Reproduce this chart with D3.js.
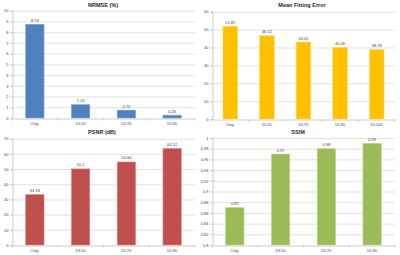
<!DOCTYPE html>
<html>
<head>
<meta charset="utf-8">
<script src="https://cdn.jsdelivr.net/npm/d3@7"></script>
<style>
    body { margin: 0; background: #fff; }
    svg { display: block; font-family: "Liberation Sans", "DejaVu Sans", sans-serif; }
</style>
</head>
<body>
<div id="chart"></div>
<script>
// values
var nrmseCats = ["Orig.", "DL50", "DL70", "DL90"];
var nrmseVals = [8.73, 1.24, 0.73, 0.26];
var nrmseLabels = ["8.73", "1.24", "0.73", "0.26"];

var mfeCats = ["Orig.", "DL50", "DL70", "DL90", "DL100"];
var mfeVals = [51.85, 46.52, 43.05, 40.09, 38.78];
var mfeLabels = ["51.85", "46.52", "43.05", "40.09", "38.78"];

var psnrCats = ["Orig.", "DL50", "DL70", "DL90"];
var psnrVals = [33.18, 50.1, 54.66, 63.52];
var psnrLabels = ["33.18", "50.1", "54.66", "63.52"];

var ssimCats = ["Orig.", "DL50", "DL70", "DL90"];
var ssimVals = [0.87, 0.97, 0.98, 0.99];
var ssimLabels = ["0.87", "0.97", "0.98", "0.99"];

var svg = d3.select("#chart").append("svg")
    .attr("width", 400)
    .attr("height", 255);

// one small Excel-style bar chart
function barChart(o) {
    var g = svg.append("g");

    var x = d3.scaleBand()
        .domain(o.cats)
        .range([o.left, o.right])
        .padding(0);

    var y = d3.scaleLinear()
        .domain(o.domain)
        .range([o.bottom, o.top]);

    var ticks = d3.range(0, Math.round((o.domain[1] - o.domain[0]) / o.step) + 1)
        .map(function (i) { return +(o.domain[0] + i * o.step).toFixed(4); });

    // gridlines
    g.selectAll(".grid")
        .data(ticks.slice(1))
        .enter().append("line")
        .attr("x1", o.left).attr("x2", o.right)
        .attr("y1", function (d) { return y(d) + 0.5; })
        .attr("y2", function (d) { return y(d) + 0.5; })
        .attr("stroke", "#d9d9d9")
        .attr("stroke-width", 0.8);

    // y axis
    var yAxis = d3.axisLeft(y)
        .tickValues(ticks)
        .tickSize(2)
        .tickPadding(2)
        .tickFormat(function (d) { return String(d); });
    var ya = g.append("g")
        .attr("transform", "translate(" + (o.left + 0.5) + ",0)")
        .call(yAxis);
    ya.select(".domain").attr("stroke", "#bfbfbf").attr("stroke-width", 0.8);
    ya.selectAll(".tick line").attr("stroke", "#bfbfbf");
    ya.selectAll("text").attr("font-size", 4).attr("fill", "#404040");

    // x axis
    var xAxis = d3.axisBottom(x).tickSize(0).tickPadding(4);
    var xa = g.append("g")
        .attr("transform", "translate(0," + (o.bottom + 0.5) + ")")
        .call(xAxis);
    xa.select(".domain").attr("stroke", "#bfbfbf").attr("stroke-width", 0.8);
    xa.selectAll("text").attr("font-size", 4).attr("fill", "#404040");

    // little ticks between categories
    var bounds = o.cats.map(function (c) { return x(c); }).concat([o.right]);
    g.selectAll(".xt")
        .data(bounds)
        .enter().append("line")
        .attr("x1", function (d) { return d; })
        .attr("x2", function (d) { return d; })
        .attr("y1", o.bottom + 0.5)
        .attr("y2", o.bottom + 2.5)
        .attr("stroke", "#bfbfbf")
        .attr("stroke-width", 0.8);

    // bars
    var bw = x.bandwidth() * 0.4;
    var data = o.cats.map(function (c, i) { return { cat: c, val: o.vals[i], lab: o.labels[i] }; });
    g.selectAll(".bar")
        .data(data)
        .enter().append("rect")
        .attr("x", function (d) { return x(d.cat) + (x.bandwidth() - bw) / 2; })
        .attr("y", function (d) { return y(d.val); })
        .attr("width", bw)
        .attr("height", function (d) { return y(o.domain[0]) - y(d.val); })
        .attr("fill", o.color)
        .attr("stroke", o.edge)
        .attr("stroke-width", 0.6);

    // value labels
    g.selectAll(".lab")
        .data(data)
        .enter().append("text")
        .attr("x", function (d) { return x(d.cat) + x.bandwidth() / 2; })
        .attr("y", function (d) { return y(d.val) - 2.5; })
        .attr("text-anchor", "middle")
        .attr("font-size", 4)
        .attr("fill", "#404040")
        .text(function (d) { return d.lab; });

    // title
    g.append("text")
        .attr("x", o.titleX)
        .attr("y", o.titleY)
        .attr("text-anchor", "middle")
        .attr("font-size", 5.5)
        .attr("font-weight", "bold")
        .attr("fill", "#262626")
        .text(o.title);
}

barChart({
    title: "NRMSE (%)", titleX: 103, titleY: 7,
    cats: nrmseCats, vals: nrmseVals, labels: nrmseLabels,
    domain: [0, 10], step: 1,
    left: 12, right: 195, top: 10.7, bottom: 118,
    color: "#4f81bd", edge: "#7fa3d0"
});

barChart({
    title: "Mean Fitting Error", titleX: 302, titleY: 7,
    cats: mfeCats, vals: mfeVals, labels: mfeLabels,
    domain: [0, 60], step: 10,
    left: 212, right: 395, top: 11.7, bottom: 119,
    color: "#ffc000", edge: "#ffd966"
});

barChart({
    title: "PSNR (dB)", titleX: 102, titleY: 134,
    cats: psnrCats, vals: psnrVals, labels: psnrLabels,
    domain: [0, 70], step: 10,
    left: 12, right: 195, top: 138.7, bottom: 245,
    color: "#c0504d", edge: "#d88583"
});

barChart({
    title: "SSIM", titleX: 298, titleY: 134,
    cats: ssimCats, vals: ssimVals, labels: ssimLabels,
    domain: [0.8, 1], step: 0.02,
    left: 212, right: 395, top: 138, bottom: 245,
    color: "#9bbb59", edge: "#bcd58a"
});
</script>
</body>
</html>
